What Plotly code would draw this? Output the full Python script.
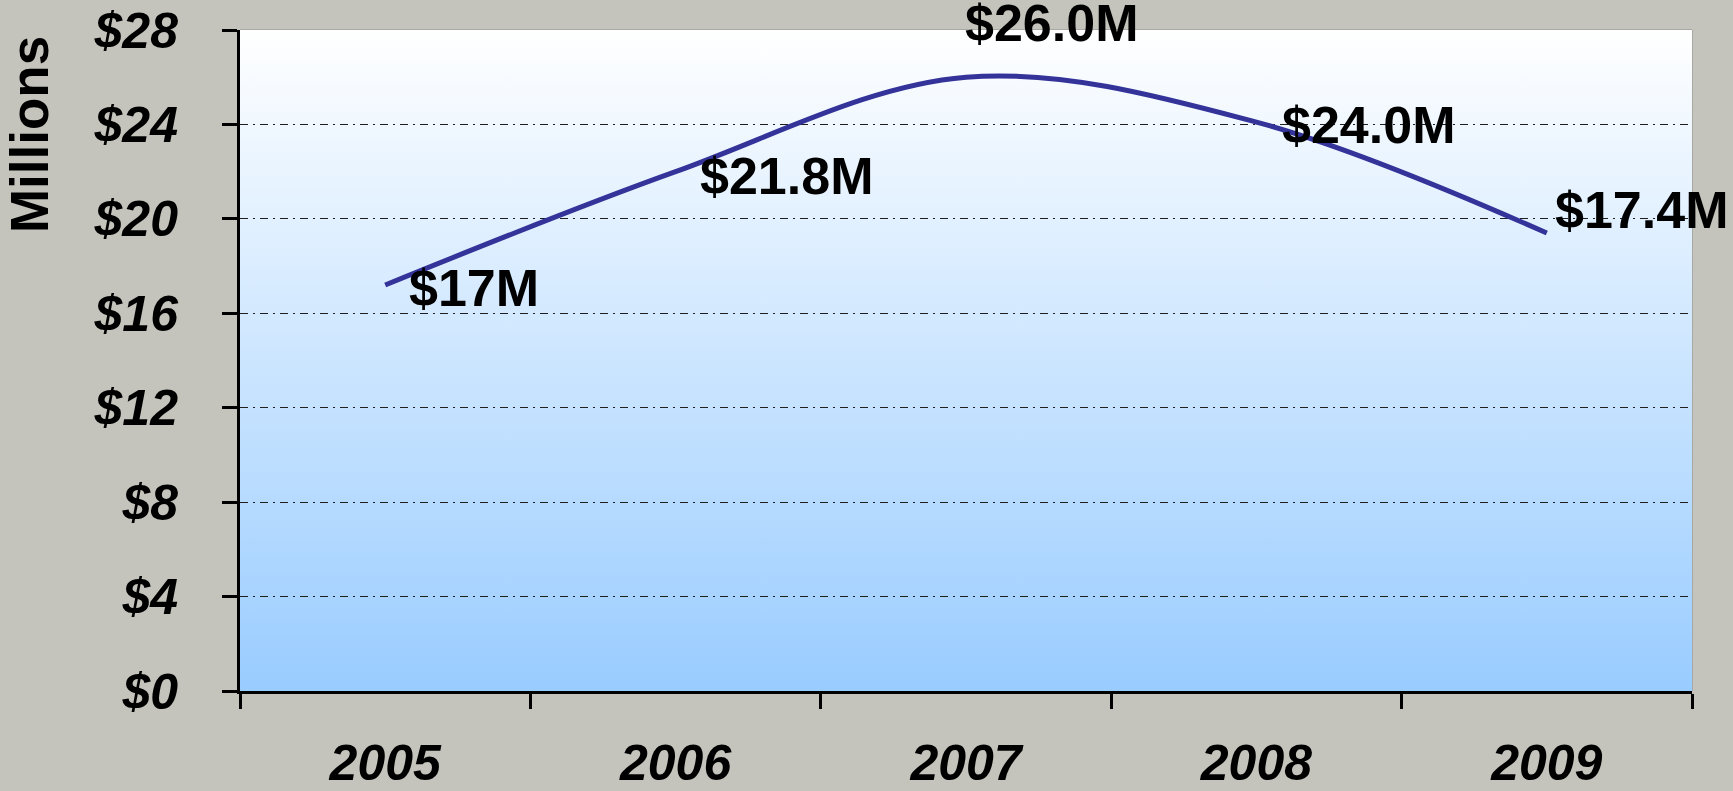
import base64
import plotly.graph_objects as go

# ---- data ----
years = ["2005", "2006", "2007", "2008", "2009"]
revenue_m = [17.2, 22.0, 26.0, 24.1, 19.4]          # line values (millions)
label_text = ["$17M", "$21.8M", "$26.0M", "$24.0M", "$17.4M"]
y_ticks = [0, 4, 8, 12, 16, 20, 24, 28]

# label placement (style only)
label_xanchor = ["left", "left", "center", "left", "left"]
label_xshift = [22, 22, 85, 24, 6]
label_yshift = [-3, -4, 54, -3, 23]

FONT = "Liberation Sans, Arial, Helvetica, sans-serif"
PAPER = "#C4C4BC"

# vertical gradient background (white -> light blue) as an SVG image
svg = (
    '<svg xmlns="http://www.w3.org/2000/svg" width="100" height="100" '
    'viewBox="0 0 100 100" preserveAspectRatio="none">'
    '<defs><linearGradient id="g" x1="0" y1="0" x2="0" y2="1">'
    '<stop offset="0" stop-color="#FFFFFF"/>'
    '<stop offset="1" stop-color="#99CCFF"/>'
    '</linearGradient></defs>'
    '<rect x="0" y="0" width="100" height="100" fill="url(#g)"/></svg>'
)
svg_uri = "data:image/svg+xml;base64," + base64.b64encode(svg.encode()).decode()

fig = go.Figure()
fig.add_trace(go.Scatter(
    x=years, y=revenue_m, mode="lines",
    line=dict(color="#333399", width=5, shape="spline", smoothing=1),
    hoverinfo="skip", showlegend=False,
))

annotations = []
for i, (v, t, xa, xs, ys) in enumerate(zip(revenue_m, label_text, label_xanchor, label_xshift, label_yshift)):
    annotations.append(dict(
        x=i, y=v, xref="x", yref="y", text=t, showarrow=False,
        xanchor=xa, yanchor="middle", xshift=xs, yshift=ys,
        font=dict(family=FONT, size=52, color="black", weight="bold"),
    ))
annotations.append(dict(
    x=0, y=0.841, xref="paper", yref="paper", text="Millions", showarrow=False,
    textangle=-90, xanchor="center", yanchor="middle", xshift=-211,
    font=dict(family=FONT, size=53, color="black", weight="bold"),
))

fig.update_layout(
    width=1733, height=791,
    margin=dict(l=240, r=41, t=30, b=100),
    paper_bgcolor=PAPER,
    plot_bgcolor="rgba(0,0,0,0)",
    annotations=annotations,
    images=[dict(
        source=svg_uri, xref="x domain", yref="y domain",
        x=0, y=1, sizex=1, sizey=1, xanchor="left", yanchor="top",
        sizing="stretch", layer="below",
    )],
    shapes=[dict(
        type="rect", xref="x domain", yref="y domain", x0=0, x1=1, y0=0, y1=1,
        line=dict(color="#8C8C8C", width=1), layer="below",
    )],
)

fig.update_xaxes(
    type="category", categoryorder="array", categoryarray=years,
    range=[-0.5, 4.5], tickson="boundaries", automargin=False,
    ticks="outside", ticklen=15, tickwidth=3, tickcolor="black",
    showline=True, linewidth=3, linecolor="black",
    showgrid=False, zeroline=False, ticklabelstandoff=26,
    tickfont=dict(family=FONT, size=50, color="black", weight="bold", style="italic"),
)
fig.update_yaxes(
    range=[0, 28], tickvals=y_ticks, ticktext=["$" + str(v) for v in y_ticks],
    automargin=False,
    ticks="outside", ticklen=15, tickwidth=3, tickcolor="black",
    showline=True, linewidth=3, linecolor="black",
    showgrid=True, gridcolor="#1E1E1E", gridwidth=1, griddash="8px,5px,2px,5px",
    zeroline=False, ticklabelstandoff=34,
    tickfont=dict(family=FONT, size=50, color="black", weight="bold", style="italic"),
)

fig.write_html(
    "out.html",
    config={"displayModeBar": False},
    post_script="document.body.style.margin='0';document.body.style.background='" + PAPER + "';",
)
